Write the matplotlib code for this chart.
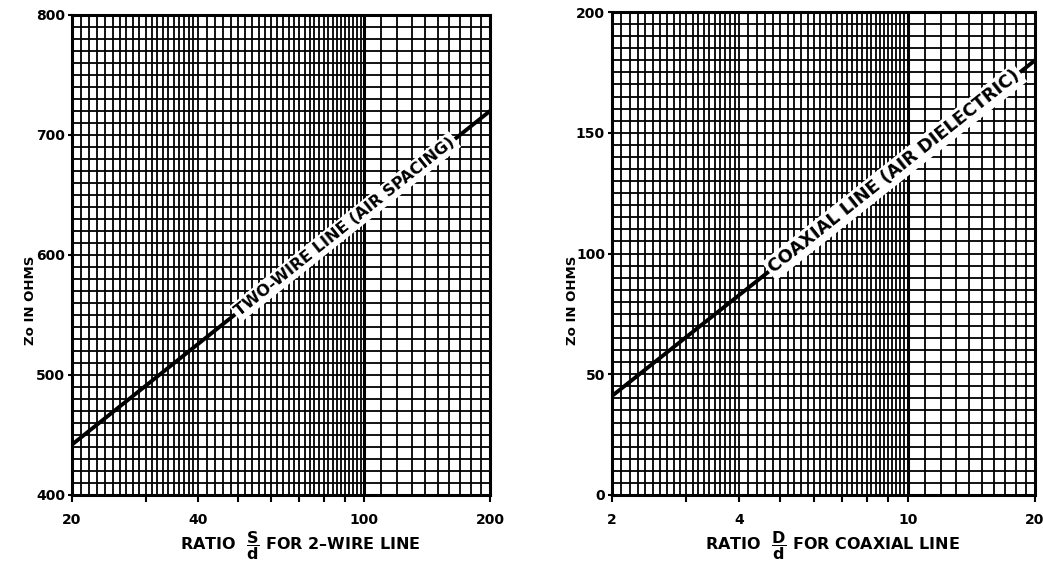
import numpy as np
import matplotlib
matplotlib.use("Agg")
import matplotlib.pyplot as plt
from matplotlib.ticker import FixedLocator, NullFormatter, FixedFormatter

# ---- data ----
two_wire_ratio = [20, 200]
two_wire_zo = [442, 720]
coax_ratio = [2, 20]
coax_zo = [41, 180]

left_xticks = [20, 40, 100, 200]
left_yticks = [400, 500, 600, 700, 800]
right_xticks = [2, 4, 10, 20]
right_yticks = [0, 50, 100, 150, 200]

left_label = "TWO-WIRE LINE (AIR SPACING)"
right_label = "COAXIAL LINE (AIR DIELECTRIC)"

plt.rcParams['font.family'] = ['DejaVu Sans']
plt.rcParams['font.weight'] = 'bold'
plt.rcParams['mathtext.fontset'] = 'custom'
plt.rcParams['mathtext.rm'] = 'DejaVu Sans:bold'
plt.rcParams['mathtext.bf'] = 'DejaVu Sans:bold'
plt.rcParams['mathtext.it'] = 'DejaVu Sans:bold'

fig = plt.figure(figsize=(10.43, 5.64), dpi=100)
axL = fig.add_axes([72/1043, 1-495/564, 418/1043, 480/564])
axR = fig.add_axes([612/1043, 1-495/564, 423/1043, 483/564])


def setup(ax, xlim, ylim, xgrid, ygrid, xmajor, xlabels, yticks):
    ax.set_xscale('log')
    ax.set_xlim(*xlim)
    ax.set_ylim(*ylim)
    for x in xgrid:
        ax.axvline(x, color='black', lw=1.3, zorder=1)
    for y in ygrid:
        ax.axhline(y, color='black', lw=1.3, zorder=1)
    ax.xaxis.set_major_locator(FixedLocator(xmajor))
    ax.xaxis.set_major_formatter(FixedFormatter(xlabels))
    ax.xaxis.set_minor_locator(FixedLocator([]))
    ax.xaxis.set_minor_formatter(NullFormatter())
    ax.set_yticks(yticks)
    ax.set_yticklabels([str(v) for v in yticks])
    ax.tick_params(axis='x', direction='out', length=5, width=1.5,
                   labelsize=10, pad=8)
    ax.tick_params(axis='y', direction='out', length=3, width=1.5,
                   labelsize=10, pad=2)
    for s in ax.spines.values():
        s.set_linewidth(2.2)
        s.set_color('black')


def line_with_label(ax, xs, ys, label, xc, size):
    ax.plot(xs, ys, color='black', lw=2.8, zorder=3)
    t = (np.log10(xc) - np.log10(xs[0])) / (np.log10(xs[1]) - np.log10(xs[0]))
    yc = ys[0] + t * (ys[1] - ys[0])
    p0 = ax.transData.transform((xs[0], ys[0]))
    p1 = ax.transData.transform((xs[1], ys[1]))
    ang = np.degrees(np.arctan2(p1[1] - p0[1], p1[0] - p0[0]))
    ax.text(xc, yc, label, rotation=ang, rotation_mode='anchor',
            ha='center', va='center', fontsize=size, fontweight='bold',
            zorder=4,
            bbox=dict(boxstyle='square,pad=0.15', fc='white', ec='none'))


# left panel grid
xgL = list(range(21, 40)) + list(range(40, 100, 2)) + list(range(110, 200, 10))
ygL = list(range(410, 800, 10))
xmajL = list(range(20, 101, 10)) + [200]
xlabL = ['20', '', '40', '', '', '', '', '', '100', '200']
setup(axL, (20, 200), (400, 800), xgL, ygL, xmajL, xlabL, left_yticks)
axL.axvline(100, color='black', lw=2.2, zorder=1)
line_with_label(axL, two_wire_ratio, two_wire_zo, left_label, 90, 11.5)

# right panel grid
xgR = [2 + 0.1 * i for i in range(1, 20)] + [4 + 0.2 * i for i in range(0, 30)] + list(range(11, 20))
ygR = list(range(5, 200, 5))
xmajR = list(range(2, 11)) + [20]
xlabR = ['2', '', '4', '', '', '', '', '', '10', '20']
setup(axR, (2, 20), (0, 200), xgR, ygR, xmajR, xlabR, right_yticks)
axR.axvline(10, color='black', lw=2.2, zorder=1)
line_with_label(axR, coax_ratio, coax_zo, right_label, 9.3, 12.8)

fig.text(300/1043, 1-546/564, r'RATIO  $\dfrac{S}{d}$ FOR 2–WIRE LINE',
         fontsize=11.5, fontweight='bold', ha='center', va='center')
fig.text(833/1043, 1-546/564, r'RATIO  $\dfrac{D}{d}$ FOR COAXIAL LINE',
         fontsize=11.5, fontweight='bold', ha='center', va='center')
fig.text(30/1043, 1-300/564, 'Zo IN OHMS', rotation=90, ha='center',
         va='center', fontsize=9.5, fontweight='bold')
fig.text(572/1043, 1-300/564, 'Zo IN OHMS', rotation=90, ha='center',
         va='center', fontsize=9.5, fontweight='bold')

fig.savefig('out.png', dpi=100, facecolor='white')
